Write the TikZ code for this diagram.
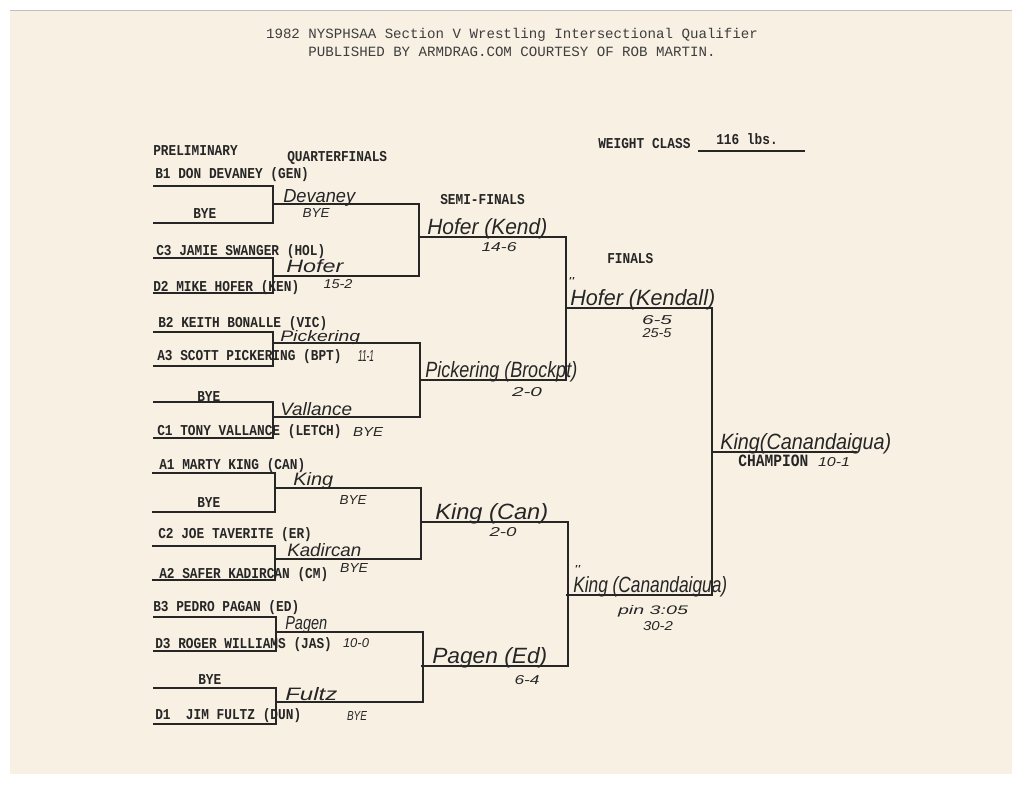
\documentclass[tikz,border=0pt]{standalone}
\usepackage{fontspec}
\usepackage{graphicx}
\newfontfamily\typed{Liberation Mono}
\newfontfamily\pen{Liberation Sans}
\newdimen\px \px=0.75pt
\newcommand\hx[3]{\resizebox{#1\px}{#2\px}{\pen\itshape #3}}
\newcommand\hw[2]{\hx{#1}{13}{#2}}
\newcommand\hb[2]{\hx{#1}{16}{#2}}
\newcommand\hs[2]{\hx{#1}{9}{#2}}
\newcommand\ty[1]{\scalebox{1}[1.18]{#1}}
\newcommand\brk[5]{%
  \coordinate (#1-tl) at (#2,#4);
  \coordinate (#1-tr) at (#3,#4);
  \coordinate (#1-br) at (#3,#5);
  \coordinate (#1-bl) at (#2,#5);
  \draw[brline] (#1-tl) -- (#1-tr) -- (#1-br) -- (#1-bl);}
\definecolor{paper}{HTML}{F7F0E3}
\definecolor{ink}{HTML}{262626}
\definecolor{pen}{HTML}{262626}
\definecolor{head}{HTML}{3E3E3E}
\begin{document}
\begin{tikzpicture}[x=0.75pt,y=-0.75pt,
  typed/.style={font=\typed\bfseries\fontsize{9.6}{10}\selectfont, text=ink, inner sep=0pt, anchor=base west},
  headtxt/.style={font=\typed\fontsize{10.6}{12}\selectfont, text=head, inner sep=0pt, anchor=center},
  hand/.style={text=pen, inner sep=0pt, anchor=base west},
  handc/.style={text=pen, inner sep=0pt, anchor=center},
  brline/.style={draw=ink, line width=1.3pt}]
\useasboundingbox (0,0) rectangle (1024,786);
\fill[white] (0,0) rectangle (1024,786);
\fill[paper] (10,10) rectangle (1012,774);
\draw[gray!50, line width=0.6pt] (10,10.5) -- (1012,10.5);

% header
\node[headtxt] (h1) at (512,35) {1982 NYSPHSAA Section V Wrestling Intersectional Qualifier};
\node[headtxt] (h2) at (512,52) {PUBLISHED BY ARMDRAG.COM COURTESY OF ROB MARTIN.};

% round headings
\node[typed] (tprel) at (153,155) {\ty{PRELIMINARY}};
\node[typed] (tqf) at (287,161) {\ty{QUARTERFINALS}};
\node[typed] (tsf) at (440,204) {\ty{SEMI-FINALS}};
\node[typed] (tfin) at (607,263) {\ty{FINALS}};
\node[typed] (twc) at (598,148) {\ty{WEIGHT CLASS}};
\node[typed] (twt) at (716,144) {\ty{116 lbs.}};
\coordinate (wcl) at (698,151);
\coordinate (wcr) at (805,151);
\draw[brline, line width=1.1pt] (wcl) -- (wcr);

% entrants
\node[typed] (e1) at (155,178) {\ty{B1 DON DEVANEY (GEN)}};
\node[typed] (e2) at (193,218) {\ty{BYE}};
\node[typed] (e3) at (156,255) {\ty{C3 JAMIE SWANGER (HOL)}};
\node[typed] (e4) at (153,291) {\ty{D2 MIKE HOFER (KEN)}};
\node[typed] (e5) at (158,327) {\ty{B2 KEITH BONALLE (VIC)}};
\node[typed] (e6) at (157,360) {\ty{A3 SCOTT PICKERING (BPT)}};
\node[typed] (e7) at (197,401) {\ty{BYE}};
\node[typed] (e8) at (157,435) {\ty{C1 TONY VALLANCE (LETCH)}};
\node[typed] (e9) at (159,469) {\ty{A1 MARTY KING (CAN)}};
\node[typed] (e10) at (197,507) {\ty{BYE}};
\node[typed] (e11) at (158,538) {\ty{C2 JOE TAVERITE (ER)}};
\node[typed] (e12) at (159,578) {\ty{A2 SAFER KADIRCAN (CM)}};
\node[typed] (e13) at (153,611) {\ty{B3 PEDRO PAGAN (ED)}};
\node[typed] (e14) at (155,648) {\ty{D3 ROGER WILLIAMS (JAS)}};
\node[typed] (e15) at (198,684) {\ty{BYE}};
\node[typed] (e16) at (155,719) {\ty{D1\ \ JIM FULTZ (DUN)}};

% brackets: preliminary
\brk{p1}{153}{273}{186}{223}
\brk{p2}{153}{273}{258}{293}
\brk{p3}{153}{273}{332}{366}
\brk{p4}{153}{273}{402}{438}
\brk{p5}{152}{275}{473}{512}
\brk{p6}{152}{275}{546}{580}
\brk{p7}{153}{276}{617}{651}
\brk{p8}{153}{276}{688}{724}
% quarterfinals
\brk{q1}{273}{419}{204}{276}
\brk{q2}{273}{420}{343}{417}
\brk{q3}{275}{421}{488}{559}
\brk{q4}{276}{423}{632}{702}
% semifinals
\brk{s1}{419}{566}{237}{380}
\brk{s2}{421}{568}{522}{666}
% finals
\brk{f1}{566}{712}{308}{595}
\coordinate (champl) at (712,452);
\coordinate (champr) at (857,452);
\draw[brline] (champl) -- (champr);

% handwriting: quarterfinal winners
\node[hand] (w1) at (283,202) {\hw{72}{Devaney}};
\node[handc] (w1r) at (316,213) {\hs{27}{BYE}};
\node[hand] (w2) at (286,272) {\hw{57}{Hofer}};
\node[handc] (w2r) at (338,284) {\hs{29}{15-2}};
\node[hand] (w3) at (280,341) {\hx{80}{11}{Pickering}};
\node[handc] (w3r) at (366,356) {\hx{16}{11}{11-1}};
\node[hand] (w4) at (280,415) {\hw{72}{Vallance}};
\node[handc] (w4r) at (368,432) {\hs{30}{BYE}};
\node[hand] (w5) at (293,485) {\hw{40}{King}};
\node[handc] (w5r) at (353,500) {\hs{27}{BYE}};
\node[hand] (w6) at (287,556) {\hw{74}{Kadircan}};
\node[handc] (w6r) at (354,568) {\hs{28}{BYE}};
\node[hand] (w7) at (285,629) {\hw{42}{Pagen}};
\node[handc] (w7r) at (356,643) {\hs{26}{10-0}};
\node[hand] (w8) at (285,700) {\hw{52}{Fultz}};
\node[handc] (w8r) at (357,716) {\hs{20}{BYE}};

% semifinal winners
\node[hand] (sw1) at (427,234) {\hb{120}{Hofer (Kend)}};
\node[handc] (sw1r) at (499,247) {\hs{35}{14-6}};
\node[hand] (sw2) at (425,377) {\hb{152}{Pickering (Brockpt)}};
\node[handc] (sw2r) at (527,392) {\hs{30}{2-0}};
\node[hand] (sw3) at (435,519) {\hb{113}{King (Can)}};
\node[handc] (sw3r) at (503,532) {\hs{27}{2-0}};
\node[hand] (sw4) at (432,663) {\hb{115}{Pagen (Ed)}};
\node[handc] (sw4r) at (527,680) {\hs{25}{6-4}};

% finalists
\node[handc] (tk1) at (571,281) {\hx{6}{8}{''}};
\node[hand] (fw1) at (570,305) {\hb{145}{Hofer (Kendall)}};
\node[handc] (fw1a) at (657,320) {\hs{30}{6-5}};
\node[handc] (fw1b) at (657,333) {\hs{29}{25-5}};
\node[handc] (tk2) at (577,569) {\hx{6}{8}{''}};
\node[hand] (fw2) at (573,592) {\hb{154}{King (Canandaigua)}};
\node[handc] (fw2a) at (653,611) {\hs{70}{pin 3:05}};
\node[handc] (fw2b) at (658,626) {\hs{30}{30-2}};

% champion
\node[hand] (ch) at (720,449) {\hb{171}{King(Canandaigua)}};
\node[typed] (tch) at (738,466) {\resizebox{70\px}{!}{\ty{CHAMPION}}};
\node[handc] (chr) at (834,462) {\hs{32}{10-1}};
\end{tikzpicture}
\end{document}
